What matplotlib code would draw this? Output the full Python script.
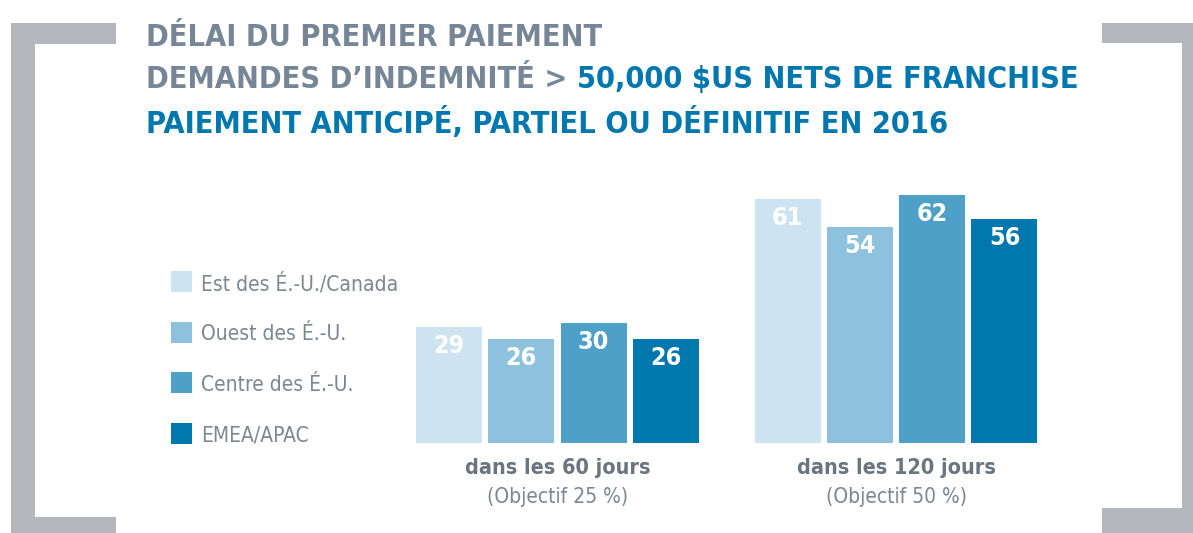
import matplotlib
matplotlib.use("Agg")
import matplotlib.pyplot as plt
from matplotlib.patches import Rectangle
import numpy as np

# data
groups = ["dans les 60 jours", "dans les 120 jours"]
targets = ["(Objectif 25 %)", "(Objectif 50 %)"]
series = ["Est des É.-U./Canada", "Ouest des É.-U.", "Centre des É.-U.", "EMEA/APAC"]
est_canada = [29, 61]
ouest = [26, 54]
centre = [30, 62]
emea_apac = [26, 56]

colors = ["#cde4f0", "#8dc1dd", "#4fa0c8", "#0077ad"]
gray_title = "#768696"
blue_title = "#0077ae"
bracket_col = "#b4b8bd"

plt.rcParams["font.family"] = ["DejaVu Sans"]
plt.rcParams["font.stretch"] = "condensed"

W, H = 1193, 533
fig = plt.figure(figsize=(W / 100, H / 100), dpi=100)

# overlay in pixel coords for frame, title and legend
bg = fig.add_axes([0, 0, 1, 1])
bg.set_xlim(0, W)
bg.set_ylim(H, 0)
bg.axis("off")

# brackets
for (x, y, w, h) in [(11, 23, 105, 21), (11, 23, 24, 510), (11, 517, 105, 16),
                     (1102, 23, 91, 20), (1182, 23, 11, 510), (1102, 508, 91, 25)]:
    bg.add_patch(Rectangle((x, y), w, h, color=bracket_col, lw=0))

# title
tkw = dict(fontsize=22, fontweight="bold", va="baseline", ha="left")
bg.text(146, 46, "DÉLAI DU PREMIER PAIEMENT", color=gray_title, **tkw)
t2 = bg.text(146, 88, "DEMANDES D\u2019INDEMNITÉ > ", color=gray_title, **tkw)
fig.canvas.draw()
ext = t2.get_window_extent()
bg.text(ext.x1, 88, "50,000 $US NETS DE FRANCHISE", color=blue_title,
        parse_math=False, **tkw)
bg.text(146, 133, "PAIEMENT ANTICIPÉ, PARTIEL OU DÉFINITIF EN 2016",
        color=blue_title, **tkw)

# legend
for i, (name, c) in enumerate(zip(series, colors)):
    ytop = 271 + i * 50.5
    bg.add_patch(Rectangle((171, ytop), 21, 21, color=c, lw=0))
    bg.text(201, ytop + 19, name, color="#7d8790", fontsize=15, va="baseline", ha="left")

# bars
ax = fig.add_axes([388.25 / W, (H - 443) / H, 677 / W, 280 / H])
ax.set_xlim(-0.5, 1.5)
ax.set_ylim(0, 70)
ax.axis("off")

x = np.arange(len(groups))
pitch = 0.2136
width = 0.195
vals = [est_canada, ouest, centre, emea_apac]
for i, (v, c) in enumerate(zip(vals, colors)):
    pos = x + (i - 1.5) * pitch
    ax.bar(pos, v, width, color=c, lw=0)
    for px, pv in zip(pos, v):
        ax.annotate(str(pv), (px, pv), xytext=(0, -13.7), textcoords="offset points",
                    ha="center", va="center", color="white", fontsize=18,
                    fontweight="bold")

for gx, g, t in zip(x, groups, targets):
    ax.annotate(g, (gx, 0), xytext=(0, -22.3), textcoords="offset points",
                ha="center", va="baseline", color="#6b757e", fontsize=15.5,
                fontweight="bold")
    ax.annotate(t, (gx, 0), xytext=(0, -43.2), textcoords="offset points",
                ha="center", va="baseline", color="#7d8790", fontsize=15)

fig.savefig("out.png", dpi=100)
